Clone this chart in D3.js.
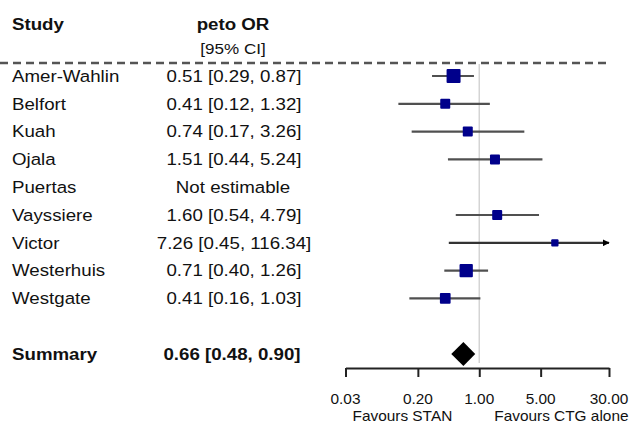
<!DOCTYPE html>
<html>
<head>
<meta charset="utf-8">
<script src="https://cdn.jsdelivr.net/npm/d3@7"></script>
<style>
  body { margin: 0; background: #fff; }
  svg { display: block; font-family: "Liberation Sans", Arial, sans-serif; }
</style>
</head>
<body>
<script>
let studies = ['Amer-Wahlin', 'Belfort', 'Kuah', 'Ojala', 'Puertas', 'Vayssiere', 'Victor', 'Westerhuis', 'Westgate'];
let estimates = [0.51, 0.41, 0.74, 1.51, null, 1.60, 7.26, 0.71, 0.41];
let lower = [0.29, 0.12, 0.17, 0.44, null, 0.54, 0.45, 0.40, 0.16];
let upper = [0.87, 1.32, 3.26, 5.24, null, 4.79, 116.34, 1.26, 1.03];
let weights = [18.8, 9.6, 9.6, 9.6, 0, 9.6, 5.1, 17.0, 11.0];
let summary = { label: 'Summary', est: 0.66, lo: 0.48, hi: 0.90 };
let tickValues = [0.03, 0.20, 1.00, 5.00, 30.00];
let favourLabels = ['Favours STAN', 'Favours CTG alone'];

let width = 644, height = 424;
let sx = 1.1; // the source is a bit wide
let fmt = d3.format('.2f');

let svg = d3.select('body').append('svg')
    .attr('width', width)
    .attr('height', height);

// x is the log scale of the odds ratio
let x = d3.scaleLog().domain([0.03, 30]).range([345.5, 609]);

// y maps row index to vertical position, summary sits two rows below the last study
let y = d3.scaleLinear().domain([0, 10]).range([76, 354]);

let box = d3.scaleSqrt().domain([0, d3.max(weights)]).range([0, 14]);

function label(txt, px, py, anchor, size, weight) {
  return svg.append('text')
      .attr('transform', 'translate(' + px + ',' + py + ') scale(' + sx + ',1)')
      .attr('text-anchor', anchor)
      .attr('dominant-baseline', 'central')
      .attr('fill', '#111')
      .style('font-size', size + 'px')
      .style('font-weight', weight || 'normal')
      .text(txt);
}

// headers
label('Study', 12, 24, 'start', 17, 'bold');
label('peto OR', 233, 24, 'middle', 17, 'bold');
label('[95% CI]', 233, 48, 'middle', 15.5);

// dashed separator
svg.append('line')
    .attr('x1', 0).attr('x2', x(30))
    .attr('y1', 63).attr('y2', 63)
    .attr('stroke', '#555')
    .attr('stroke-width', 2.5)
    .attr('stroke-dasharray', '8,5');

// reference line at OR = 1
svg.append('line')
    .attr('x1', x(1)).attr('x2', x(1))
    .attr('y1', 64).attr('y2', 363)
    .attr('stroke', '#d4d4d4')
    .attr('stroke-width', 1.5);

svg.append('defs').append('marker')
    .attr('id', 'arrow')
    .attr('viewBox', '0 0 10 10')
    .attr('refX', 9).attr('refY', 5)
    .attr('markerWidth', 7).attr('markerHeight', 7)
    .attr('markerUnits', 'userSpaceOnUse')
    .attr('orient', 'auto')
  .append('path')
    .attr('d', 'M0,0L10,5L0,10z')
    .attr('fill', '#000');

// study rows
studies.forEach(function(s, i) {
  label(s, 12, y(i), 'start', 17);
  if (estimates[i] == null) {
    label('Not estimable', 233, y(i), 'middle', 17);
    return;
  }
  label(fmt(estimates[i]) + ' [' + fmt(lower[i]) + ', ' + fmt(upper[i]) + ']', 234, y(i), 'middle', 17);

  let clipped = upper[i] > 30;
  svg.append('line')
      .attr('x1', x(Math.max(lower[i], 0.03)))
      .attr('x2', x(Math.min(upper[i], 30)))
      .attr('y1', y(i)).attr('y2', y(i))
      .attr('stroke', clipped ? '#333' : '#505050')
      .attr('stroke-width', 2.2)
      .attr('marker-end', clipped ? 'url(#arrow)' : null);

  let b = box(weights[i]);
  svg.append('rect')
      .attr('x', x(estimates[i]) - b / 2)
      .attr('y', y(i) - b / 2)
      .attr('width', b).attr('height', b)
      .attr('rx', 1)
      .attr('fill', '#00008b');
});

// summary row
label(summary.label, 12, y(10), 'start', 17, 'bold');
label(fmt(summary.est) + ' [' + fmt(summary.lo) + ', ' + fmt(summary.hi) + ']', 232, y(10), 'middle', 17, 'bold');

svg.append('path')
    .attr('d', d3.line()([
      [x(summary.lo), y(10)],
      [x(summary.est), y(10) - 12],
      [x(summary.hi), y(10)],
      [x(summary.est), y(10) + 12]
    ]) + 'Z')
    .attr('fill', '#000');

// axis
let axis = svg.append('g')
    .attr('transform', 'translate(0,368)')
    .call(d3.axisBottom(x).tickValues(tickValues).tickFormat(fmt).tickSize(9).tickSizeOuter(0));

axis.select('.domain').attr('stroke', '#222').attr('stroke-width', 2);
axis.selectAll('.tick line').attr('stroke', '#222').attr('stroke-width', 2);
axis.selectAll('.tick text').remove();

tickValues.forEach(function(t) {
  label(fmt(t), x(t), 399, 'middle', 14);
});

label(favourLabels[0], x(1) - 27, 416, 'end', 14);
label(favourLabels[1], x(1) + 15, 416, 'start', 14);
</script>
</body>
</html>
